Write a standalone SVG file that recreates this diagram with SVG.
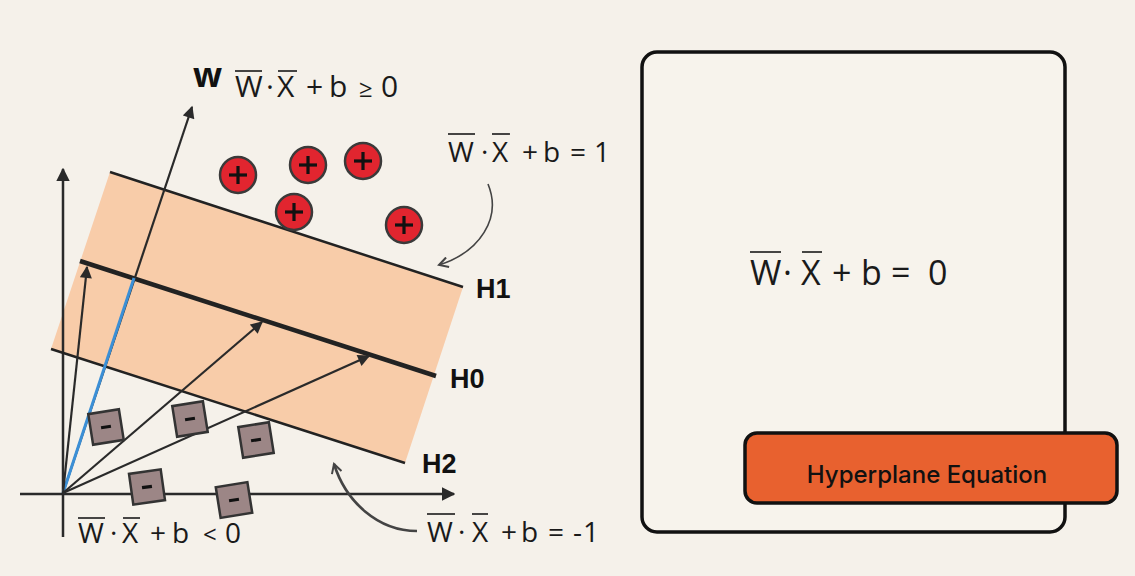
<svg xmlns="http://www.w3.org/2000/svg" width="1135" height="576" viewBox="0 0 1135 576">
<style>
.eq{font-family:"Open Sans","DejaVu Sans",sans-serif;fill:#1a1a1a}
.ov{stroke:#1a1a1a;stroke-width:1.6}
.hl{font-family:"Liberation Sans",Arial,sans-serif;font-weight:bold;fill:#111}
.ax{stroke:#2a2a2a;stroke-width:2.5;fill:none}
.vec{stroke:#2a2a2a;stroke-width:2.2;fill:none}
.hp{stroke:#222;stroke-width:2.5;fill:none}
.curve{stroke:#444;fill:none}
.pos circle{fill:#e1252f;stroke:#3a3a3a;stroke-width:2.5}
.sign{stroke:#111;stroke-width:3.2;stroke-linecap:butt}
.neg rect{fill:#9c8686;stroke:#333;stroke-width:2.5}
</style>
<defs>
<marker id="axh" viewBox="0 0 10 10" refX="9" refY="5" markerWidth="5.5" markerHeight="6" markerUnits="strokeWidth" orient="auto"><path d="M0,0 L10,5 L0,10 z" fill="#2a2a2a"/></marker>
<marker id="vh" viewBox="0 0 10 10" refX="9" refY="5" markerWidth="6" markerHeight="5.5" markerUnits="strokeWidth" orient="auto"><path d="M0,0 L10,5 L0,10 z" fill="#2a2a2a"/></marker>
<marker id="open" viewBox="0 0 12 12" refX="10" refY="6" markerWidth="12" markerHeight="12" markerUnits="userSpaceOnUse" orient="auto"><path d="M1,1 L10,6 L1,11" fill="none" stroke="#444" stroke-width="2"/></marker>
</defs>
<rect x="0" y="0" width="1135" height="576" fill="#f5f1ea"/>

<g id="margin-band">
<polygon points="110,172 463,287 405,463 51,349" fill="#f8cca9"/>
</g>

<g id="connectors">
<line class="ax" x1="63" y1="537" x2="63" y2="169" marker-end="url(#axh)"/>
<line class="ax" x1="20" y1="494" x2="454" y2="494" marker-end="url(#axh)"/>
<line class="hp" x1="110" y1="172" x2="463" y2="287"/>
<line class="hp" x1="51" y1="349" x2="405" y2="463"/>
<line stroke="#222" stroke-width="4.5" x1="80" y1="261" x2="436" y2="376"/>
<line class="vec" x1="63" y1="493" x2="192" y2="107" marker-end="url(#vh)"/>
<line stroke="#3b8fd6" stroke-width="3" x1="63" y1="493" x2="134" y2="278"/>
<line class="vec" x1="63" y1="493" x2="87" y2="267" marker-end="url(#vh)"/>
<line class="vec" x1="63" y1="493" x2="262" y2="322" marker-end="url(#vh)"/>
<line class="vec" x1="63" y1="493" x2="369" y2="356" marker-end="url(#vh)"/>
<path class="curve" stroke-width="1.6" d="M488,184 C502,218 480,252 439,265" marker-end="url(#open)"/>
<path class="curve" stroke-width="2.6" stroke="#333" d="M417,531 C378,531 346,502 334,464" marker-end="url(#open)"/>
</g>

<g id="positives" class="pos">
<g id="p1"><circle cx="238" cy="175" r="18"/><line class="sign" x1="229" y1="175" x2="247" y2="175"/><line class="sign" x1="238" y1="166" x2="238" y2="184"/></g>
<g id="p2"><circle cx="308" cy="165" r="18"/><line class="sign" x1="299" y1="165" x2="317" y2="165"/><line class="sign" x1="308" y1="156" x2="308" y2="174"/></g>
<g id="p3"><circle cx="363" cy="161" r="18"/><line class="sign" x1="354" y1="161" x2="372" y2="161"/><line class="sign" x1="363" y1="152" x2="363" y2="170"/></g>
<g id="p4"><circle cx="294" cy="212" r="18"/><line class="sign" x1="285" y1="212" x2="303" y2="212"/><line class="sign" x1="294" y1="203" x2="294" y2="221"/></g>
<g id="p5"><circle cx="404" cy="225" r="18"/><line class="sign" x1="395" y1="225" x2="413" y2="225"/><line class="sign" x1="404" y1="216" x2="404" y2="234"/></g>
</g>

<g id="negatives" class="neg">
<g id="n1" transform="translate(106,427) rotate(-9)"><rect x="-15.5" y="-15.5" width="31" height="31"/><line class="sign" x1="-5" y1="0" x2="5" y2="0"/></g>
<g id="n2" transform="translate(190,419) rotate(-9)"><rect x="-15.5" y="-15.5" width="31" height="31"/><line class="sign" x1="-5" y1="0" x2="5" y2="0"/></g>
<g id="n3" transform="translate(256,440) rotate(-9)"><rect x="-15.5" y="-15.5" width="31" height="31"/><line class="sign" x1="-5" y1="0" x2="5" y2="0"/></g>
<g id="n4" transform="translate(147,487) rotate(-8)"><rect x="-16" y="-15.5" width="32" height="31"/><line class="sign" x1="-5" y1="0" x2="5" y2="0"/></g>
<g id="n5" transform="translate(234,500) rotate(-9)"><rect x="-16" y="-15.5" width="32" height="31"/><line class="sign" x1="-5" y1="0" x2="5" y2="0"/></g>
</g>

<g id="hyperplane-labels">
<text class="hl" font-size="27" x="476" y="298">H1</text>
<text class="hl" font-size="27" x="450" y="388">H0</text>
<text class="hl" font-size="27" x="422" y="473">H2</text>
<text font-family="'Open Sans',sans-serif" font-weight="bold" font-size="34" fill="#111" x="193" y="87">w</text>
</g>

<g id="label-pos">
<text class="eq" font-size="30" y="97"><tspan x="235">W</tspan><tspan x="266">·</tspan><tspan x="277">X</tspan><tspan x="306">+</tspan><tspan x="329">b</tspan><tspan x="359" font-size="24">≥</tspan><tspan x="381">0</tspan></text>
<line class="ov" x1="235" y1="71" x2="262" y2="71"/><line class="ov" x1="278" y1="71" x2="297" y2="71"/>
</g>

<g id="label-h1">
<text class="eq" font-size="28" y="162"><tspan x="448">W</tspan><tspan x="481">·</tspan><tspan x="492">X</tspan><tspan x="522">+</tspan><tspan x="543">b</tspan><tspan x="570">=</tspan><tspan x="594">1</tspan></text>
<line class="ov" x1="448" y1="134" x2="475" y2="134"/><line class="ov" x1="492" y1="134" x2="510" y2="134"/>
</g>

<g id="label-neg">
<text class="eq" font-size="28" y="543"><tspan x="78">W</tspan><tspan x="110">·</tspan><tspan x="122">X</tspan><tspan x="150">+</tspan><tspan x="172">b</tspan><tspan x="203" font-size="24">&lt;</tspan><tspan x="225">0</tspan></text>
<line class="ov" x1="78" y1="518" x2="105" y2="518"/><line class="ov" x1="123" y1="518" x2="140" y2="518"/>
</g>

<g id="label-h2">
<text class="eq" font-size="28" y="542"><tspan x="427">W</tspan><tspan x="458">·</tspan><tspan x="472">X</tspan><tspan x="501">+</tspan><tspan x="521">b</tspan><tspan x="548">=</tspan><tspan x="573">-</tspan><tspan x="583">1</tspan></text>
<line class="ov" x1="427" y1="514" x2="455" y2="514"/><line class="ov" x1="472" y1="514" x2="488" y2="514"/>
</g>

<g id="equation-card">
<rect x="642" y="52" width="423" height="480" rx="15" fill="#f7f3ec" stroke="#111" stroke-width="3.5"/>
<text class="eq" font-size="34" y="285"><tspan x="750">W</tspan><tspan x="783">·</tspan><tspan x="801">X</tspan><tspan x="832">+</tspan><tspan x="861">b</tspan><tspan x="891">=</tspan><tspan x="928">0</tspan></text>
<line class="ov" x1="750" y1="252" x2="781" y2="252"/><line class="ov" x1="802" y1="252" x2="822" y2="252"/>
</g>

<g id="title-badge">
<rect x="745" y="433" width="372" height="70" rx="12" fill="#e8612f" stroke="#111" stroke-width="3.5"/>
<text x="927" y="483" text-anchor="middle" font-family="Inter,'Liberation Sans',sans-serif" font-weight="500" font-size="24" fill="#111">Hyperplane Equation</text>
</g>
</svg>
